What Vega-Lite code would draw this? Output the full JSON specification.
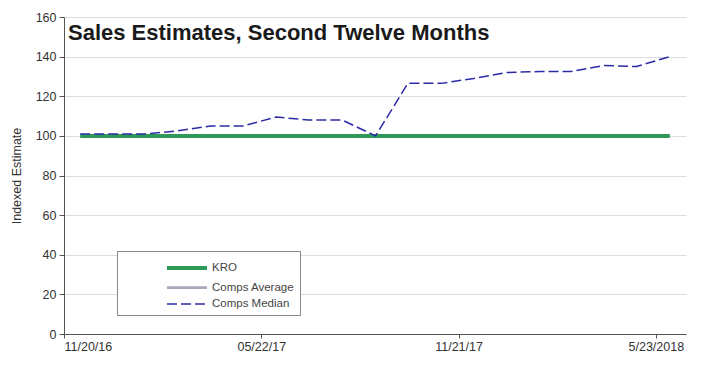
{
  "$schema": "https://vega.github.io/schema/vega-lite/v6.json",
  "autosize": {"type": "none"},
  "width": 622,
  "height": 317,
  "padding": {"left": 64, "top": 17, "right": 31, "bottom": 31},
  "background": "white",
  "config": {
    "font": "Liberation Sans",
    "view": {"stroke": null},
    "axis": {
      "labelColor": "#333333",
      "labelFontSize": 12.5,
      "domainColor": "#555555",
      "tickColor": "#555555",
      "gridColor": "#dddddd",
      "titleColor": "#333333"
    }
  },
  "title": {
    "text": "Sales Estimates, Second Twelve Months",
    "anchor": "start",
    "frame": "group",
    "orient": "top",
    "offset": -26,
    "dx": 4,
    "dy": 25,
    "baseline": "alphabetic",
    "fontSize": 22,
    "fontWeight": "bold",
    "color": "#1a1a1a",
    "font": "Liberation Sans"
  },
  "data": {
    "values": [
      {"date": "2016-12-05", "series": "KRO", "value": 100},
      {"date": "2017-01-05", "series": "KRO", "value": 100},
      {"date": "2017-02-05", "series": "KRO", "value": 100},
      {"date": "2017-03-05", "series": "KRO", "value": 100},
      {"date": "2017-04-05", "series": "KRO", "value": 100},
      {"date": "2017-05-05", "series": "KRO", "value": 100},
      {"date": "2017-06-05", "series": "KRO", "value": 100},
      {"date": "2017-07-05", "series": "KRO", "value": 100},
      {"date": "2017-08-05", "series": "KRO", "value": 100},
      {"date": "2017-09-05", "series": "KRO", "value": 100},
      {"date": "2017-10-05", "series": "KRO", "value": 100},
      {"date": "2017-11-05", "series": "KRO", "value": 100},
      {"date": "2017-12-05", "series": "KRO", "value": 100},
      {"date": "2018-01-05", "series": "KRO", "value": 100},
      {"date": "2018-02-05", "series": "KRO", "value": 100},
      {"date": "2018-03-05", "series": "KRO", "value": 100},
      {"date": "2018-04-05", "series": "KRO", "value": 100},
      {"date": "2018-05-05", "series": "KRO", "value": 100},
      {"date": "2018-06-05", "series": "KRO", "value": 100},
      {"date": "2016-12-05", "series": "Comps Median", "value": 101},
      {"date": "2017-01-05", "series": "Comps Median", "value": 101},
      {"date": "2017-02-05", "series": "Comps Median", "value": 101},
      {"date": "2017-03-05", "series": "Comps Median", "value": 102.5},
      {"date": "2017-04-05", "series": "Comps Median", "value": 105},
      {"date": "2017-05-05", "series": "Comps Median", "value": 105},
      {"date": "2017-06-05", "series": "Comps Median", "value": 109.5},
      {"date": "2017-07-05", "series": "Comps Median", "value": 108},
      {"date": "2017-08-05", "series": "Comps Median", "value": 108},
      {"date": "2017-09-05", "series": "Comps Median", "value": 100},
      {"date": "2017-10-05", "series": "Comps Median", "value": 126.5},
      {"date": "2017-11-05", "series": "Comps Median", "value": 126.5},
      {"date": "2017-12-05", "series": "Comps Median", "value": 129},
      {"date": "2018-01-05", "series": "Comps Median", "value": 132},
      {"date": "2018-02-05", "series": "Comps Median", "value": 132.5},
      {"date": "2018-03-05", "series": "Comps Median", "value": 132.5},
      {"date": "2018-04-05", "series": "Comps Median", "value": 135.5},
      {"date": "2018-05-05", "series": "Comps Median", "value": 135},
      {"date": "2018-06-05", "series": "Comps Median", "value": 140}
    ]
  },
  "mark": {"type": "line", "strokeCap": "butt", "strokeJoin": "round"},
  "encoding": {
    "x": {
      "field": "date",
      "type": "temporal",
      "scale": {"type": "utc", "domain": ["2016-11-20", "2018-06-20"]},
      "axis": {
        "title": null,
        "grid": false,
        "values": [
          {"year": 2016, "month": 11, "date": 20, "utc": true},
          {"year": 2017, "month": 5, "date": 22, "utc": true},
          {"year": 2017, "month": 11, "date": 21, "utc": true},
          {"year": 2018, "month": 5, "date": 23, "utc": true}
        ],
        "labelExpr": "utcFormat(datum.value, '%Y') == '2018' ? '5/23/2018' : utcFormat(datum.value, '%m/%d/%y')",
        "labelFlush": true,
        "labelOverlap": false,
        "tickSize": 4,
        "labelPadding": 2
      }
    },
    "y": {
      "field": "value",
      "type": "quantitative",
      "scale": {"domain": [0, 160], "nice": false},
      "axis": {
        "title": "Indexed Estimate",
        "titleFontSize": 12.5,
        "titleFontWeight": "normal",
        "titlePadding": 12,
        "values": [0, 20, 40, 60, 80, 100, 120, 140, 160],
        "tickSize": 5,
        "labelPadding": 3
      }
    },
    "color": {
      "field": "series",
      "type": "nominal",
      "scale": {
        "domain": ["KRO", "Comps Average", "Comps Median"],
        "range": ["#2f9a58", "#a8a8b8", "#2b2ba6"]
      },
      "legend": {
        "title": null,
        "orient": "none",
        "legendX": 53,
        "legendY": 234,
        "symbolType": "M-2,0H2",
        "symbolSize": 400,
        "labelFontSize": 11.5,
        "labelColor": "#444444",
        "labelOffset": 13,
        "rowPadding": 0,
        "padding": 5,
        "symbolOffset": 53,
        "strokeColor": "#888888",
        "fillColor": "white",
        "encoding": {
          "legend": {"update": {"width": {"value": 213}, "height": {"value": 54}}}
        }
      }
    },
    "strokeDash": {
      "field": "series",
      "type": "nominal",
      "scale": {
        "domain": ["KRO", "Comps Average", "Comps Median"],
        "range": [[1, 0], [1, 0], [10, 4]]
      },
      "legend": null
    },
    "strokeWidth": {
      "field": "series",
      "type": "nominal",
      "scale": {
        "domain": ["KRO", "Comps Average", "Comps Median"],
        "range": [4, 1.5, 2]
      },
      "legend": null
    }
  }
}
